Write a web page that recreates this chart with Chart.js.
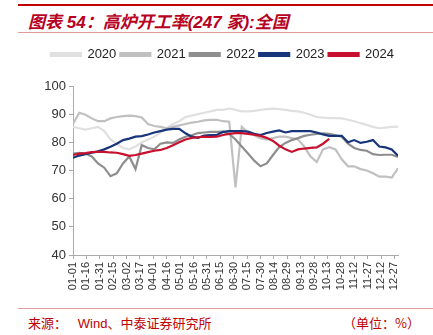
<!DOCTYPE html>
<html>
<head>
<meta charset="utf-8">
<script src="https://cdn.jsdelivr.net/npm/chart.js@4"></script>
<style>
  html, body { margin: 0; padding: 0; background: #fff; }
  body { width: 433px; height: 335px; position: relative; overflow: hidden; font-family: "Liberation Sans", Arial, "Noto Sans CJK SC", sans-serif; }
  .topline { position: absolute; left: 18px; right: 0; top: 4px; height: 2px; background: #c00000; }
  .title { position: absolute; left: 28px; top: 8px; font-size: 17px; font-weight: bold; font-style: italic; color: #b8001f; white-space: nowrap; font-family: "Liberation Sans", Arial, "Noto Sans CJK SC", sans-serif; }
  .subline { position: absolute; left: 18px; right: 0; top: 32px; height: 1px; background: #e39a9a; }
  .footline { position: absolute; left: 18px; right: 0; top: 308px; height: 1px; background: #e39a9a; }
  .src { position: absolute; left: 28px; top: 313px; font-size: 13px; color: #c00000; white-space: nowrap; font-family: "Liberation Sans", Arial, "Noto Sans CJK SC", sans-serif; }
  .unit { position: absolute; left: 343px; top: 313px; font-size: 13px; color: #c00000; white-space: nowrap; font-family: "Noto Sans CJK SC", sans-serif; }
  #wrap { position: absolute; left: 0; top: 38px; width: 433px; height: 267px; }
</style>
</head>
<body>
<div class="topline"></div>
<div class="title">图表 54：高炉开工率(247 家):全国</div>
<div class="subline"></div>
<div id="wrap"><canvas id="chart"></canvas></div>
<div class="footline"></div>
<div class="src">来源：&nbsp;&nbsp;&nbsp;Wind、中泰证券研究所</div>
<div class="unit">（单位：%）</div>
<script>
// day of year (weekly), ticks every 15 days
var days = [];
for (var d = 0; d <= 364; d += 7) days.push(d);

var years = ['2020', '2021', '2022', '2023', '2024'];
var colors = ['#e0e0e0', '#c0c0c0', '#8e8e8e', '#17357a', '#c8102e'];

var v2020 = [85.5, 85, 84.5, 85, 85.5, 84, 81, 79.5, 78, 77.5, 78.5, 80, 81, 82, 83.5, 85, 86.5, 87.5, 89, 89.5,
    90, 90.5, 91, 91.5, 91.5, 92, 91.5, 91, 91, 91.2, 91.5, 91.8, 92, 91.8, 91.5, 91.2, 91, 90.5, 89.8, 89,
    88.8, 88.6, 88.6, 88.5, 88, 87.5, 86.8, 86.2, 85.5, 85, 85.2, 85.5, 85.6];
var v2021 = [86.5, 90.5, 89.8, 88.5, 87.5, 87.5, 88.5, 89, 89.3, 89.5, 89.3, 88.8, 86.5, 85.8, 85.5, 85, 85.5, 86, 86.5, 87,
    87.3, 87.8, 88, 88, 87.5, 87.3, 64, 85.5, 83.5, 82.5, 81.5, 81, 81.5, 82, 82, 81.5, 81, 78.5, 75, 73,
    77.5, 78.3, 77.5, 74, 71.5, 71.5, 70.5, 70, 69, 67.8, 67.8, 67.5, 70.8];
var v2022 = [76, 76.3, 76, 75, 72.5, 71, 68, 69, 72.5, 75, 70.5, 79, 78, 77.5, 79.5, 80, 79.8, 81, 82, 82.5,
    83.3, 83.5, 83.7, 83.7, 83.8, 83, 81, 78.5, 76, 73.5, 71.5, 72.5, 75.5, 78.3, 79.8, 80.8, 81.5, 82.3, 82.7, 83,
    83.2, 83, 82.5, 82, 79.5, 78, 77.3, 77, 75.8, 75.5, 75.6, 75.6, 74.8];
var v2023 = [74.5, 75.3, 75.8, 76.3, 76.8, 77.5, 78.4, 79.5, 80.8, 81.3, 82, 82.2, 82.8, 83.5, 84, 84.5, 84.8, 84.8, 83.2, 82,
    81.6, 82.4, 82.6, 82.6, 83.7, 84, 84, 84, 83.8, 83, 82.6, 83.3, 83.8, 84.2, 83.5, 84, 84, 84, 84, 83.5,
    82.8, 82.3, 82.3, 82.3, 80, 80.8, 79.8, 80.2, 80.8, 78.5, 78.2, 77.5, 75.2];
var v2024 = [75.5, 76, 76.2, 76.5, 76.6, 76.6, 76.4, 76.3, 75.8, 75.2, 75.5, 76, 76.5, 77, 77.3, 78, 79, 80, 81, 81.6,
    81.8, 82, 81.9, 82, 82.6, 83, 83.3, 83.3, 83, 82.7, 82.3, 81.6, 80.5, 78.8, 77.5, 76.6, 77.5, 77.8, 78, 78.2,
    79.5, 81.2];

var yTicks = [40, 50, 60, 70, 80, 90, 100];

function toPoints(vals) {
    return vals.map(function (v, i) { return { x: days[i], y: v }; });
}

function dayLabel(d) {
    var dt = new Date(Date.UTC(2023, 0, 1 + d));
    var m = String(dt.getUTCMonth() + 1).padStart(2, '0');
    var dd = String(dt.getUTCDate()).padStart(2, '0');
    return m + '-' + dd;
}

var series = [v2020, v2021, v2022, v2023, v2024];
var datasets = years.map(function (y, i) {
    return {
        label: y,
        data: toPoints(series[i]),
        borderColor: colors[i],
        backgroundColor: colors[i],
        borderWidth: 2.2,
        pointRadius: 0,
        tension: 0,
        order: 10 - i
    };
});

// fixed legend height so the plot starts where the original does
var legendBox = {
    id: 'legendBox',
    beforeInit: function (chart) {
        var fit = chart.legend.fit;
        chart.legend.fit = function () {
            fit.bind(chart.legend)();
            this.height = 42;
        };
    }
};

var ctx = document.getElementById('chart').getContext('2d');
var chart = new Chart(ctx, {
    type: 'line',
    data: { datasets: datasets },
    plugins: [legendBox],
    options: {
        responsive: true,
        maintainAspectRatio: false,
        animation: false,
        layout: { padding: { left: 0, right: 35, top: 6, bottom: 0 } },
        plugins: {
            tooltip: { enabled: false },
            legend: {
                position: 'top',
                align: 'end',
                labels: {
                    boxWidth: 30,
                    boxHeight: 3,
                    padding: 4,
                    color: '#222',
                    font: { family: 'Liberation Sans, Arial', size: 13 },
                    sort: function (a, b) { return a.datasetIndex - b.datasetIndex; }
                }
            }
        },
        scales: {
            x: {
                type: 'linear',
                min: 0,
                max: 364,
                afterBuildTicks: function (axis) {
                    var t = [];
                    for (var d = 0; d <= 360; d += 15) t.push({ value: d });
                    axis.ticks = t;
                },
                afterFit: function (axis) { axis.height = 50; },
                ticks: {
                    callback: function (v) { return dayLabel(v); },
                    minRotation: 90,
                    maxRotation: 90,
                    autoSkip: false,
                    padding: 3,
                    color: '#333',
                    font: { family: 'Liberation Sans, Arial', size: 11 }
                },
                grid: { drawOnChartArea: false, drawTicks: true, tickLength: 4, color: '#aaa' },
                border: { color: '#aaa', width: 1 }
            },
            y: {
                min: 40,
                max: 100,
                afterBuildTicks: function (axis) {
                    axis.ticks = yTicks.map(function (v) { return { value: v }; });
                },
                afterFit: function (axis) { axis.width = 73; },
                ticks: {
                    padding: 3,
                    color: '#333',
                    font: { family: 'Liberation Sans, Arial', size: 13 }
                },
                grid: { drawOnChartArea: false, drawTicks: true, tickLength: 4, color: '#aaa' },
                border: { color: '#aaa', width: 1 }
            }
        }
    }
});
</script>
</body>
</html>
